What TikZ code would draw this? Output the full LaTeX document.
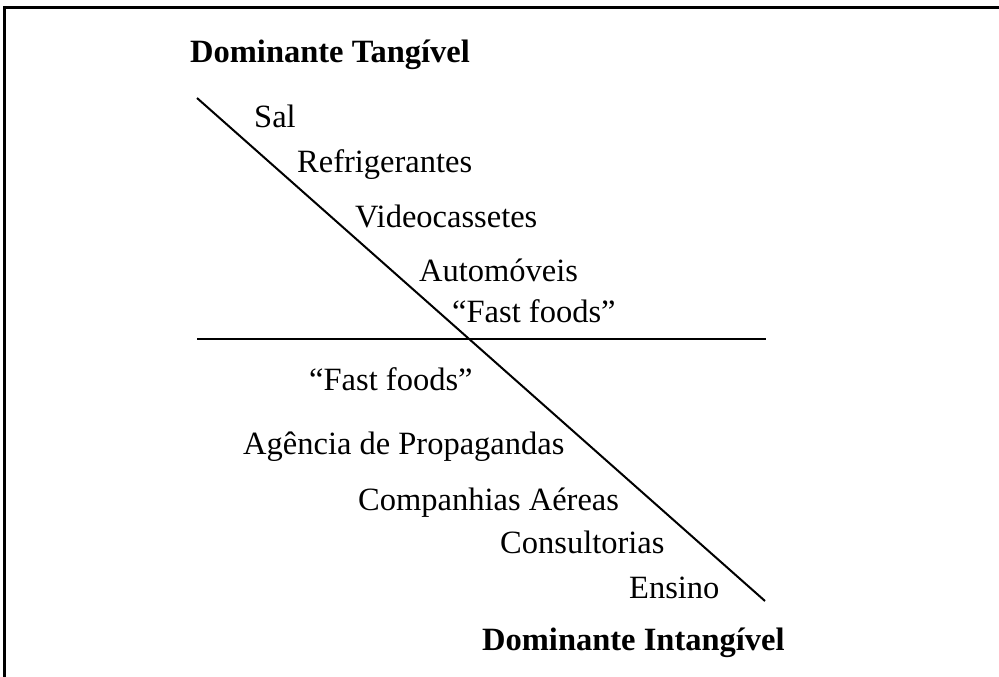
\documentclass[tikz,border=0pt]{standalone}
\usepackage{fontspec}
\setmainfont{Liberation Serif}
\begin{document}
\begin{tikzpicture}[x=1pt,y=-1pt,
  lbl/.style={anchor=base west,inner sep=0pt,font=\fontsize{32.5}{38}\selectfont},
  head/.style={anchor=base west,inner sep=0pt,font=\fontsize{32.5}{38}\selectfont\bfseries},
  frameline/.style={line width=3pt,line cap=rect},
  axis/.style={line width=2pt}]
\useasboundingbox (0,0) rectangle (999,677);
% frame (top and left edges)
\coordinate (ftl) at (4.5,7.5);
\coordinate (ftr) at (1005,7.5);
\coordinate (fbl) at (4.5,690);
\draw[frameline] (fbl) -- (ftl) -- (ftr);
% axes
\coordinate (d1) at (197,98);
\coordinate (d2) at (765,601);
\coordinate (h1) at (197,339);
\coordinate (h2) at (766,339);
\draw[axis] (d1) -- (d2);
\draw[axis] (h1) -- (h2);
% headings
\node[head] (top) at (190,63) {Dominante Tangível};
\node[head] (bot) at (482,650) {Dominante Intangível};
% upper items
\node[lbl] (sal) at (254,127) {Sal};
\node[lbl] (ref) at (297,172) {Refrigerantes};
\node[lbl] (vid) at (355,227) {Videocassetes};
\node[lbl] (aut) at (419,281) {Automóveis};
\node[lbl] (ff1) at (452,322) {“Fast foods”};
% lower items
\node[lbl] (ff2) at (309,390) {“Fast foods”};
\node[lbl] (age) at (243,454) {Agência de Propagandas};
\node[lbl] (cia) at (358,510) {Companhias Aéreas};
\node[lbl] (con) at (500,553) {Consultorias};
\node[lbl] (ens) at (629,598) {Ensino};
\end{tikzpicture}
\end{document}
